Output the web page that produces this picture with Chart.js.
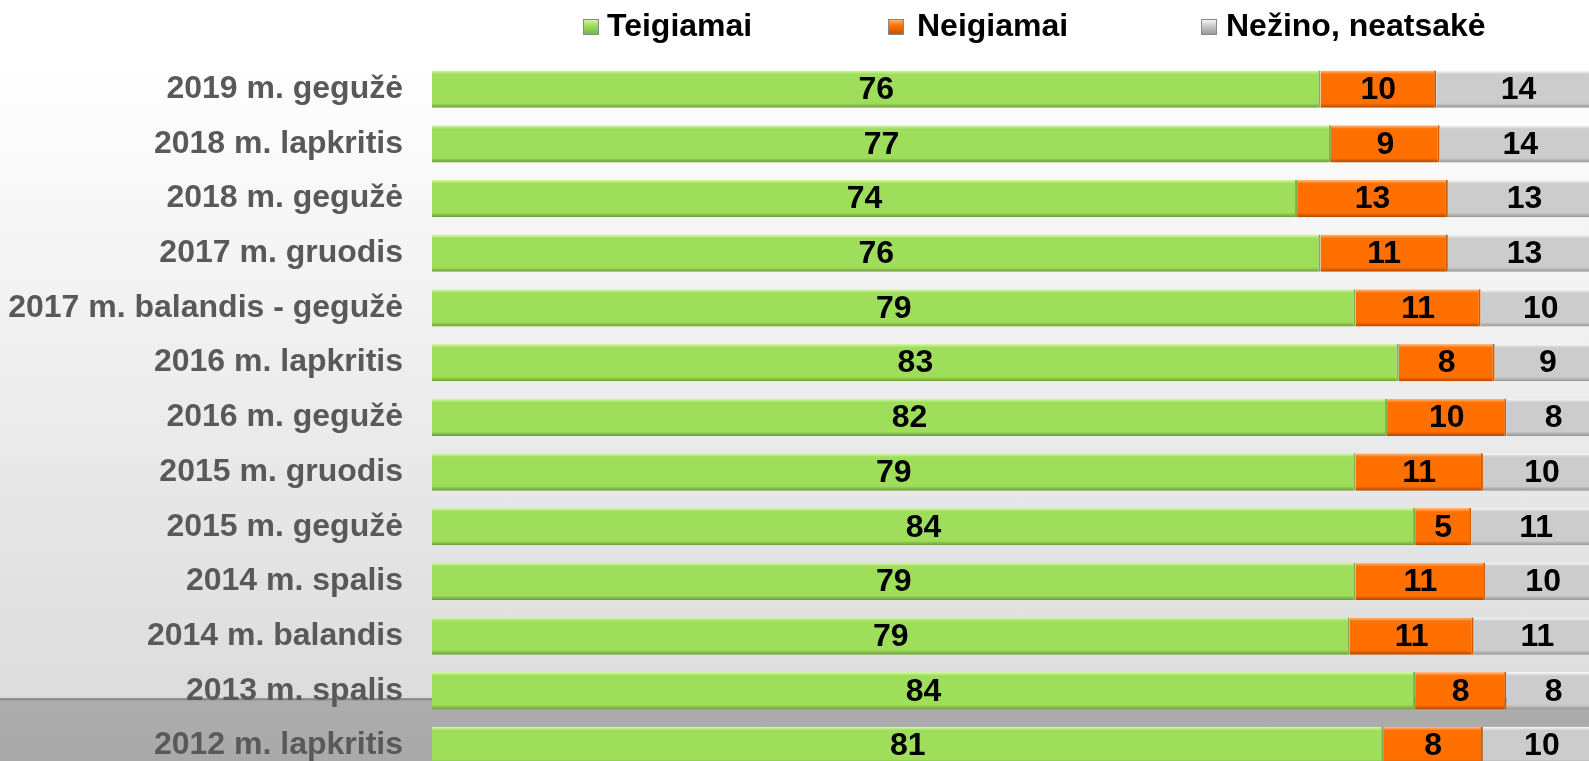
<!DOCTYPE html>
<html>
<head>
<meta charset="utf-8">
<script src="https://cdn.jsdelivr.net/npm/chart.js@4"></script>
<style>
  html,body{margin:0;padding:0;overflow:hidden;}
  #wrap{position:relative;width:1589px;height:761px;overflow:hidden;
    background:linear-gradient(to bottom,#ffffff 0px,#ffffff 60px,#dcdcdc 698px,#8e8e8e 698px,#8e8e8e 700px,#adadad 701px,#a9a9a9 761px);}
  #chart{position:absolute;left:0;top:0;width:1601px;height:821px;}
  .lg{position:absolute;top:9px;font:bold 32px "Liberation Sans",Arial,sans-serif;line-height:32px;color:#000;white-space:nowrap;}
  .lg i{position:absolute;top:10px;width:14px;height:14px;border:1px solid #888;}
</style>
</head>
<body>
<div id="wrap">
  <canvas id="chart" width="1601" height="821"></canvas>
  <div class="lg" style="left:583px"><i style="left:0;background:linear-gradient(#d2f5a8,#9ede5a 40%,#7cb640)"></i><span style="margin-left:24px">Teigiamai</span></div>
  <div class="lg" style="left:888px"><i style="left:0;background:linear-gradient(#ffb070,#ff7000 40%,#c85200)"></i><span style="margin-left:29px">Neigiamai</span></div>
  <div class="lg" style="left:1201px"><i style="left:0;background:linear-gradient(#f4f4f4,#cccccc 40%,#999)"></i><span style="margin-left:25px">Nežino, neatsakė</span></div>
</div>
<script>
const categories = ['2019 m. gegužė','2018 m. lapkritis','2018 m. gegužė','2017 m. gruodis','2017 m. balandis - gegužė','2016 m. lapkritis','2016 m. gegužė','2015 m. gruodis','2015 m. gegužė','2014 m. spalis','2014 m. balandis','2013 m. spalis','2012 m. lapkritis'];
const teigiamai = [76, 76.9, 74, 76, 79, 82.7, 81.7, 79, 84.1, 79, 78.5, 84.1, 81.4];
const neigiamai = [9.9, 9.3, 12.9, 10.9, 10.7, 8.2, 10.2, 10.9, 4.8, 11.1, 10.6, 7.8, 8.49];
const nezino = [14.1, 13.8, 13.1, 13.1, 10.3, 9.1, 8.1, 10.1, 11.1, 9.9, 10.9, 8.1, 10.11];

const FONT = '"Liberation Sans", Arial, sans-serif';

// bevel-like fill for each bar
function bevel(light, base, dark){
  return function(c){
    const chart=c.chart;
    if(!chart.chartArea || !chart.scales.y) return base;
    const y=chart.scales.y.getPixelForValue(c.dataIndex);
    const h=37.3;
    const g=chart.ctx.createLinearGradient(0,y-h/2,0,y+h/2);
    g.addColorStop(0,light);
    g.addColorStop(0.1,base);
    g.addColorStop(0.88,base);
    g.addColorStop(1,dark);
    return g;
  };
}

const barLabels = {
  id:'barLabels',
  afterDatasetsDraw(chart){
    const ctx=chart.ctx;
    ctx.save();
    ctx.font='bold 32px '+FONT;
    ctx.fillStyle='#000';
    ctx.textAlign='center';
    ctx.textBaseline='middle';
    chart.data.datasets.forEach((ds,i)=>{
      chart.getDatasetMeta(i).data.forEach((bar,j)=>{
        const x=(bar.x+bar.base)/2;
        ctx.fillText(Math.round(ds.data[j]), x, bar.y+1);
      });
    });
    ctx.restore();
  }
};

const common = {barPercentage:0.682, categoryPercentage:1, borderSkipped:false, borderWidth:{right:2,left:0,top:0,bottom:0}};

new Chart(document.getElementById('chart'),{
  type:'bar',
  data:{
    labels:categories,
    datasets:[
      Object.assign({label:'Teigiamai', data:teigiamai, backgroundColor:bevel('#d8f8ae','#9ede5a','#6a9a38'), borderColor:'#7fae4a'},common),
      Object.assign({label:'Neigiamai', data:neigiamai, backgroundColor:bevel('#ffc08a','#ff7000','#b04800'), borderColor:'#d05a00'},common),
      Object.assign({label:'Nežino, neatsakė', data:nezino, backgroundColor:bevel('#fafafa','#cccccc','#959595'), borderColor:'#a8a8a8'},common)
    ]
  },
  options:{
    indexAxis:'y',
    responsive:false,
    animation:false,
    devicePixelRatio:1,
    layout:{padding:{top:61.8,left:0,right:0,bottom:0}},
    plugins:{legend:{display:false},tooltip:{enabled:false}},
    scales:{
      x:{stacked:true,min:0,max:100,display:false},
      y:{stacked:true,
        grid:{display:false,drawTicks:false},
        border:{display:false},
        afterFit(s){ s.width=432; },
        ticks:{padding:29,color:'#595959',font:{family:FONT,size:32,weight:'bold'}}
      }
    }
  },
  plugins:[barLabels]
});
</script>
</body>
</html>
